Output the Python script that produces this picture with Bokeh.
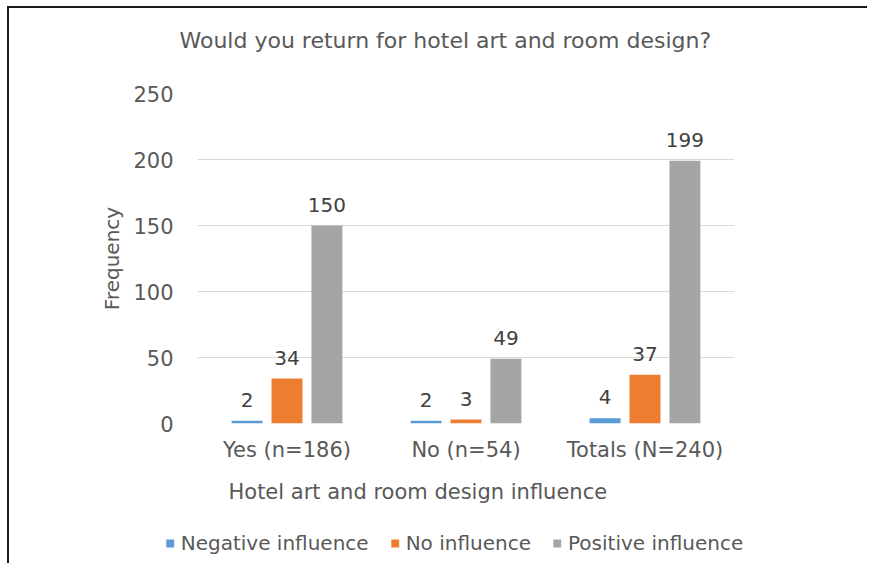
from bokeh.plotting import figure
from bokeh.layouts import column
from bokeh.models import (FactorRange, Range1d, FixedTicker, Legend, LegendItem,
                          Title, ColumnDataSource)
from bokeh.transform import dodge
from bokeh.core.properties import value
from bokeh.embed import file_html
from bokeh.resources import INLINE

# ---- data ----
categories = ["Yes (n=186)", "No (n=54)", "Totals (N=240)"]
negative_influence = [2, 2, 4]
no_influence = [34, 3, 37]
positive_influence = [150, 49, 199]
series_names = ["Negative influence", "No influence", "Positive influence"]
y_ticks = [0, 50, 100, 150, 200, 250]

title_text = "Would you return for hotel  art and room design?"
x_label = "Hotel art and room design influence"
y_label = "Frequency"

FONT = "DejaVu Sans"
TXT = "#595959"
colors = ["#5B9BD5", "#ED7D31", "#A5A5A5"]

source = ColumnDataSource(dict(
    cat=categories,
    neg=negative_influence,
    noi=no_influence,
    pos=positive_influence,
    neg_t=[str(v) for v in negative_influence],
    noi_t=[str(v) for v in no_influence],
    pos_t=[str(v) for v in positive_influence],
))

p = figure(x_range=FactorRange(*categories), y_range=Range1d(0, 250),
           width=858, height=515, output_backend="svg", toolbar_location=None,
           min_border_left=188, min_border_right=133, min_border_top=85,
           min_border_bottom=100)
p.outline_line_color = None
p.background_fill_color = "white"
p.border_fill_color = "white"
p.title.text = ""
p.title.standoff = 0

# spacer + title (first added sits nearest the frame)
p.add_layout(Title(text=" ", text_font_size="10px", standoff=28), "above")
p.add_layout(Title(text=title_text, align="left", offset=-18, text_font=FONT,
                   text_font_size="22px", text_font_style="normal",
                   text_color=TXT, standoff=0), "above")

# bars
offsets = [-0.223, 0.0, 0.223]
fields = ["neg", "noi", "pos"]
renderers = []
for f, off, c in zip(fields, offsets, colors):
    r = p.vbar(x=dodge("cat", off, range=p.x_range), top=f, width=0.173,
               source=source, fill_color=c, line_color=None)
    renderers.append(r)
    p.text(x=dodge("cat", off, range=p.x_range), y=f, text=f + "_t", source=source,
           text_align="center", text_baseline="alphabetic", y_offset=-21,
           text_font=value(FONT), text_font_size="20px", text_color="#404040")

# axes
p.yaxis.ticker = FixedTicker(ticks=y_ticks)
p.yaxis.axis_line_color = None
p.yaxis.major_tick_line_color = None
p.yaxis.minor_tick_line_color = None
p.yaxis.major_label_text_font = FONT
p.yaxis.major_label_text_font_size = "21px"
p.yaxis.major_label_text_color = TXT
p.yaxis.major_label_standoff = 18
p.yaxis.axis_label = y_label
p.yaxis.axis_label_text_font = FONT
p.yaxis.axis_label_text_font_size = "20px"
p.yaxis.axis_label_text_font_style = "normal"
p.yaxis.axis_label_text_color = TXT
p.yaxis.axis_label_standoff = 6

p.xaxis.axis_line_color = None
p.xaxis.major_tick_line_color = None
p.xaxis.minor_tick_line_color = None
p.xaxis.major_label_text_font = FONT
p.xaxis.major_label_text_font_size = "21px"
p.xaxis.major_label_text_color = TXT
p.xaxis.major_label_standoff = 8

p.xgrid.grid_line_color = None
p.ygrid.grid_line_color = "#D9D9D9"
p.ygrid.grid_line_width = 1

p.add_layout(Title(text=x_label, align="left", offset=31, text_font=FONT,
                   text_font_size="21px", text_font_style="normal",
                   text_color=TXT, standoff=26), "below")

# legend in its own strip below the chart
pl = figure(width=858, height=40, output_backend="svg", toolbar_location=None,
            x_range=Range1d(0, 1), y_range=Range1d(0, 1),
            min_border_left=32, min_border_right=0, min_border_top=0, min_border_bottom=0)
pl.axis.visible = False
pl.grid.visible = False
pl.outline_line_color = None
pl.title.text = ""
for fig in (p, pl):
    if "frame_align" in fig.properties():
        fig.frame_align = False
leg_renderers = [pl.vbar(x=[0.5], top=[0], width=0.01, fill_color=c, line_color=None)
                 for c in colors]
legend = Legend(items=[LegendItem(label=n, renderers=[r]) for n, r in zip(series_names, leg_renderers)],
                orientation="horizontal", location="center",
                label_text_font=FONT, label_text_font_size="20px", label_text_color=TXT,
                glyph_width=10, glyph_height=10, label_standoff=6, spacing=21,
                border_line_color=None, background_fill_alpha=0, padding=4, margin=0)
pl.add_layout(legend, "center")

layout = column(p, pl, spacing=0)
layout.margin = (6, 0, 0, 7)
layout.styles = {"border-left": "2px solid #1a1a1a", "border-top": "2px solid #1a1a1a"}

open("out.html", "w").write(file_html(layout, INLINE))
